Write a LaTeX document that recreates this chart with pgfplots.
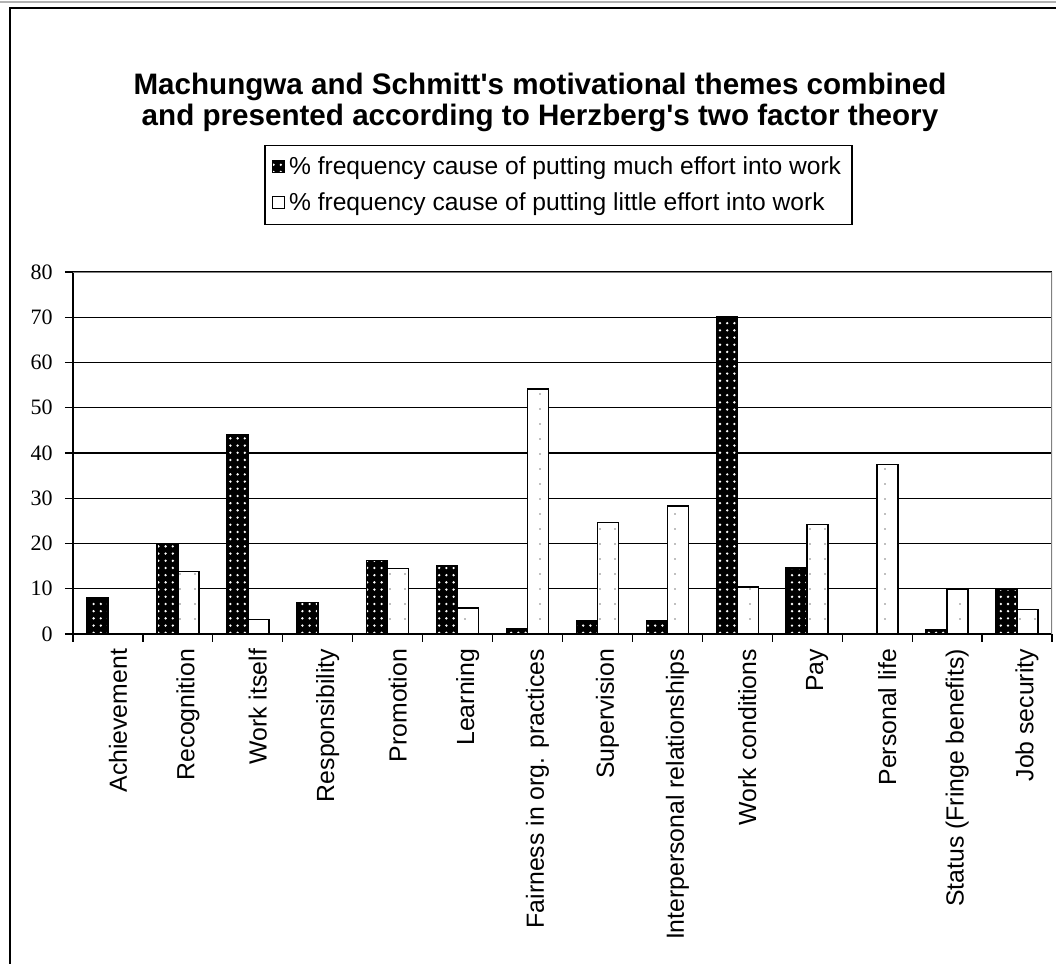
\documentclass[border=0pt]{standalone}
\usepackage{pgfplots}
\pgfplotsset{compat=1.18}
\usepackage{fontspec}
\setmainfont{Liberation Sans}[Ligatures=TeXOff]
\newfontfamily\tickfont{Liberation Serif}
\usetikzlibrary{patterns.meta}
\begin{document}
\begin{tikzpicture}
\useasboundingbox (0pt,0pt) rectangle (528pt,482pt);
\draw[gray!60, line width=1pt] (0pt,481pt) -- (528pt,481pt);
\draw[black, line width=0.8pt] (5pt,0pt) -- (5pt,478pt) -- (528pt,478pt);
\node[font=\bfseries\fontsize{14.8}{15.5}\selectfont, align=center] at (270pt,431pt)
  {Machungwa and Schmitt's motivational themes combined\\and presented according to Herzberg's two factor theory};
\begin{axis}[
  scale only axis, width=489.5pt, height=181pt,
  at={(36.5pt,165pt)}, anchor=south west,
  ymin=0, ymax=80, ytick={0,10,...,80},
  xmin=-0.5, xmax=13.5,
  ybar=0pt, bar width=10.5pt,
  xtick={0,...,13},
  xticklabels={Achievement,Recognition,Work itself,Responsibility,Promotion,Learning,Fairness in org. practices,Supervision,Interpersonal relationships,Work conditions,Pay,Personal life,Status (Fringe benefits),Job security},
  minor xtick={-0.5,0.5,...,13.5},
  major x tick style={draw=none},
  minor x tick style={black, line width=0.6pt},
  tick align=outside,
  major tick length=4pt, minor tick length=4pt,
  y tick style={black, line width=0.6pt},
  ymajorgrids, grid style={black, line width=0.6pt},
  axis x line*=bottom, axis y line*=left,
  axis line style={black, line width=0.8pt, -},
  xticklabel style={rotate=90, anchor=east, font=\fontsize{12.4}{14}\selectfont, yshift=-5pt},
  yticklabel style={font=\tickfont\fontsize{11}{12}\selectfont, inner sep=0pt, xshift=-6pt},
  /pgf/number format/assume math mode=true,
  legend style={at={(0.496,1.351)}, anchor=north, draw=black, line width=0.6pt,
    font=\fontsize{12.3}{14}\selectfont, row sep=3.5pt, inner sep=3.5pt,
    legend cell align=left, /tikz/every even column/.append style={column sep=1pt}},
  legend image code/.code={\draw[#1, line width=0.5pt] (0pt,-3pt) rectangle (6pt,3pt);},
]
\addplot[draw=black, line width=0.8pt, fill=black,
  postaction={pattern={Dots[distance=3.6pt, radius=0.65pt]}, pattern color=white}]
  coordinates {(0,8) (1,20) (2,44) (3,7) (4,16.2) (5,15) (6,1.2) (7,2.9) (8,2.9) (9,70) (10,14.6) (11,0) (12,0.9) (13,9.9)};
\addplot[draw=black, line width=0.8pt, fill=white,
  postaction={pattern={Dots[distance=7.5pt, radius=0.45pt]}, pattern color=gray}]
  coordinates {(0,0) (1,13.8) (2,3.2) (3,0) (4,14.5) (5,5.7) (6,54.2) (7,24.6) (8,28.3) (9,10.4) (10,24.2) (11,37.5) (12,9.9) (13,5.4)};
\legend{\% frequency cause of putting much effort into work, \% frequency cause of putting little effort into work}
\draw[gray, line width=0.6pt] (rel axis cs:0,1) -- (rel axis cs:1,1) -- (rel axis cs:1,0);
\end{axis}
\end{tikzpicture}
\end{document}
